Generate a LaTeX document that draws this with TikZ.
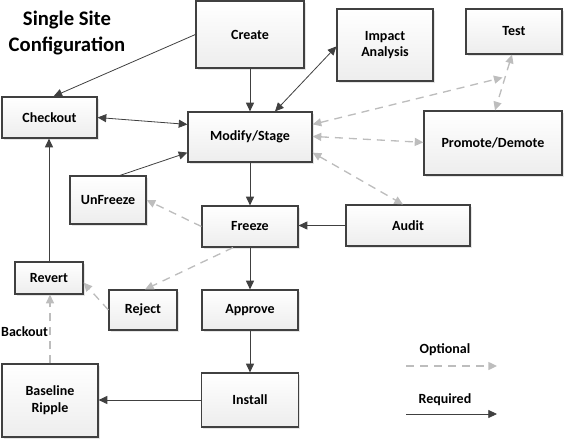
\documentclass[tikz,border=0pt]{standalone}
\usepackage{fontspec}
\setmainfont{Carlito}
\usetikzlibrary{%
  arrows.meta,
  shadows
}
\definecolor{boxline}{HTML}{404040}
\definecolor{optgray}{HTML}{BDBDBD}
\tikzset{
  stage box/.style={draw=boxline, line width=0.9pt, top color=white, bottom color=gray!14,
    drop shadow={shadow xshift=1.2pt, shadow yshift=-1.2pt, fill=gray!40, opacity=0.5},
    font=\fontsize{10.5}{12.5}\selectfont\bfseries, align=center, inner sep=0pt},
  box size/.style 2 args={minimum width=#1*0.75pt, minimum height=#2*0.75pt},
  required/.style={draw=boxline, line width=0.6pt},
  optional/.style={draw=optgray, line width=1pt, dash pattern=on 6pt off 4.5pt},
  >={Triangle[length=6.5pt,width=6pt]},
}

\begin{document}
\begin{tikzpicture}[x=0.75pt,y=-0.75pt]
\useasboundingbox (0,0) rectangle (565,439);
%%%title
\node[font=\fontsize{15.5}{18.8}\selectfont\bfseries, align=center] (title) at (67,33) {Single Site\\Configuration};

%%%stages
\node[stage box, box size={108}{67}] (create) at (250,34.5) {Create};
\node[stage box, box size={96}{72}] (impact) at (385,45) {Impact\\Analysis};
\node[stage box, box size={96}{45}] (test) at (514,31.5) {Test};
\node[stage box, box size={95}{41}] (checkout) at (49.5,117.5) {Checkout};
\node[stage box, box size={124}{50}] (modify) at (250,137) {Modify/Stage};
\node[stage box, box size={138}{64}] (promote) at (493,143) {Promote/Demote};
\node[stage box, box size={76}{48}] (unfreeze) at (108,200) {UnFreeze};
\node[stage box, box size={96}{41}] (freeze) at (250,226.5) {Freeze};
\node[stage box, box size={124}{41}] (audit) at (408,225.5) {Audit};
\node[stage box, box size={68}{32}] (revert) at (49,278) {Revert};
\node[stage box, box size={68}{40}] (reject) at (143,310) {Reject};
\node[stage box, box size={96}{40}] (approve) at (250,310) {Approve};
\node[stage box, box size={96}{73}] (baseline) at (50,400.5) {Baseline\\Ripple};
\node[stage box, box size={97}{54}] (install) at (250,400) {Install};

%%%required flow
\draw[required, ->] (create.west) -- ([shift={(4,0)}]checkout.north);
\draw[required, <->] (checkout.east) -- ([shift={(0,13)}]modify.north west);
\draw[required, ->] (create.south) -- (modify.north);
\draw[required, <->] ([shift={(25,0)}]modify.north) -- ([shift={(0,38)}]impact.north west);
\draw[required, ->] ([shift={(12,0)}]unfreeze.north) -- ([shift={(0,-10)}]modify.south west);
\draw[required, ->] (revert.north) -- (revert.north |- checkout.south);
\draw[required, ->] (modify.south) -- (freeze.north);
\draw[required, ->] (audit.west) -- (audit.west -| freeze.east);
\draw[required, ->] (freeze.south) -- (approve.north);
\draw[required, ->] (approve.south) -- (install.north);
\draw[required, ->] (install.west) -- (install.west -| baseline.east);

%%%optional flow
\draw[optional, <->] ([shift={(-2,0)}]test.south) -- ([shift={(2,0)}]promote.north) coordinate[pos=0.4] (testline);
\draw[optional, <->, shorten >=2pt] ([shift={(0,13)}]modify.north east) -- (testline);
\draw[optional, <->] ([shift={(0,25)}]modify.north east) -- ([shift={(0,32)}]promote.north west);
\draw[optional, <->] ([shift={(0,-10)}]modify.south east) -- ([shift={(-5,0)}]audit.north);
\draw[optional, ->] (freeze.west) -- (unfreeze.east);
\draw[optional, ->] ([shift={(-17,0)}]freeze.south) -- ([shift={(2,0)}]reject.north);
\draw[optional, ->] (reject.west) -- ([shift={(0,-12)}]revert.south east);
\draw[optional, ->] (baseline.north) -- (baseline.north |- revert.south)
  node[pos=0.46, left, inner sep=1pt, font=\fontsize{10.5}{12.5}\selectfont\bfseries] (backout) {Backout};

%%%legend
\node[font=\fontsize{10.5}{12.5}\selectfont\bfseries] (optlabel) at (445,350) {Optional};
\coordinate (optA) at (406,366);
\coordinate (optB) at (497,366);
\draw[optional, ->] (optA) -- (optB);
\node[font=\fontsize{10.5}{12.5}\selectfont\bfseries] (reqlabel) at (445,400) {Required};
\coordinate (reqA) at (406,414);
\coordinate (reqB) at (497,414);
\draw[required, ->] (reqA) -- (reqB);

\end{tikzpicture}
\end{document}
